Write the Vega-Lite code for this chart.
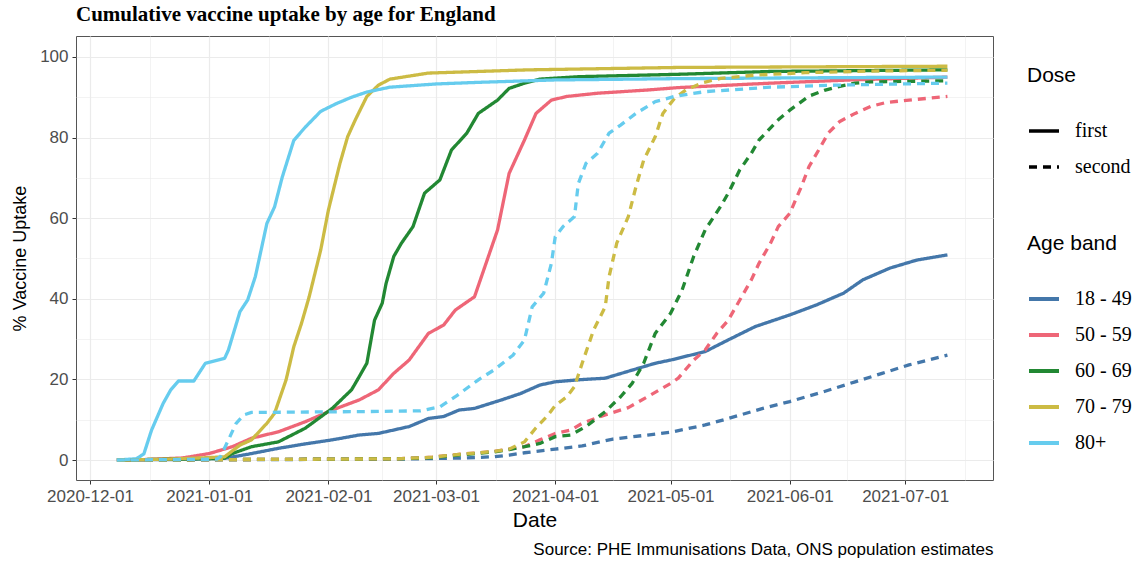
{
  "$schema": "https://vega.github.io/schema/vega-lite/v6.json",
  "autosize": {"type": "none"},
  "padding": {"left": 76, "top": 36, "right": 144, "bottom": 88},
  "width": 917,
  "height": 444,
  "background": "white",
  "title": {
    "text": "Cumulative vaccine uptake by age for England",
    "anchor": "start",
    "frame": "group",
    "font": "Liberation Serif",
    "fontSize": 21,
    "fontWeight": "bold",
    "color": "black",
    "baseline": "alphabetic",
    "offset": -6
  },
  "config": {
    "view": {"stroke": "#555555", "strokeWidth": 1},
    "axis": {
      "labelFont": "Liberation Sans",
      "titleFont": "Liberation Sans",
      "labelColor": "#4D4D4D",
      "titleColor": "black",
      "titleFontWeight": "normal",
      "labelFontSize": 17,
      "titleFontSize": 21,
      "domain": false,
      "tickColor": "#333333",
      "tickSize": 4,
      "labelPadding": 4,
      "gridColor": "#EBEBEB",
      "gridWidth": 1.2
    },
    "legend": {
      "titleFont": "Liberation Sans",
      "titleFontSize": 21,
      "titleFontWeight": "normal",
      "titleColor": "black",
      "labelFont": "Liberation Serif",
      "labelFontSize": 20,
      "labelColor": "black",
      "symbolType": "stroke",
      "symbolSize": 900,
      "symbolStrokeWidth": 3.5,
      "rowPadding": 9,
      "titlePadding": 28,
      "labelOffset": 14,
      "padding": 0
    }
  },
  "data": {"name": "uptake", "values": [
    {"date": "2020-12-08", "age": "18 - 49", "dose": "first", "pct": 0},
    {"date": "2020-12-21", "age": "18 - 49", "dose": "first", "pct": 0.1},
    {"date": "2021-01-05", "age": "18 - 49", "dose": "first", "pct": 0.4},
    {"date": "2021-01-12", "age": "18 - 49", "dose": "first", "pct": 1.6},
    {"date": "2021-01-19", "age": "18 - 49", "dose": "first", "pct": 2.9},
    {"date": "2021-01-26", "age": "18 - 49", "dose": "first", "pct": 4.0},
    {"date": "2021-02-02", "age": "18 - 49", "dose": "first", "pct": 5.0},
    {"date": "2021-02-09", "age": "18 - 49", "dose": "first", "pct": 6.2},
    {"date": "2021-02-14", "age": "18 - 49", "dose": "first", "pct": 6.6},
    {"date": "2021-02-22", "age": "18 - 49", "dose": "first", "pct": 8.3},
    {"date": "2021-02-27", "age": "18 - 49", "dose": "first", "pct": 10.3},
    {"date": "2021-03-03", "age": "18 - 49", "dose": "first", "pct": 10.8},
    {"date": "2021-03-07", "age": "18 - 49", "dose": "first", "pct": 12.4},
    {"date": "2021-03-11", "age": "18 - 49", "dose": "first", "pct": 12.8},
    {"date": "2021-03-18", "age": "18 - 49", "dose": "first", "pct": 14.9},
    {"date": "2021-03-23", "age": "18 - 49", "dose": "first", "pct": 16.5},
    {"date": "2021-03-28", "age": "18 - 49", "dose": "first", "pct": 18.6},
    {"date": "2021-04-01", "age": "18 - 49", "dose": "first", "pct": 19.4},
    {"date": "2021-04-07", "age": "18 - 49", "dose": "first", "pct": 19.9},
    {"date": "2021-04-14", "age": "18 - 49", "dose": "first", "pct": 20.3},
    {"date": "2021-04-21", "age": "18 - 49", "dose": "first", "pct": 22.3},
    {"date": "2021-04-27", "age": "18 - 49", "dose": "first", "pct": 24.0},
    {"date": "2021-05-01", "age": "18 - 49", "dose": "first", "pct": 24.8},
    {"date": "2021-05-10", "age": "18 - 49", "dose": "first", "pct": 26.9},
    {"date": "2021-05-16", "age": "18 - 49", "dose": "first", "pct": 29.8},
    {"date": "2021-05-23", "age": "18 - 49", "dose": "first", "pct": 33.1},
    {"date": "2021-06-01", "age": "18 - 49", "dose": "first", "pct": 36.0},
    {"date": "2021-06-08", "age": "18 - 49", "dose": "first", "pct": 38.5},
    {"date": "2021-06-15", "age": "18 - 49", "dose": "first", "pct": 41.4},
    {"date": "2021-06-20", "age": "18 - 49", "dose": "first", "pct": 44.7},
    {"date": "2021-06-27", "age": "18 - 49", "dose": "first", "pct": 47.6},
    {"date": "2021-07-04", "age": "18 - 49", "dose": "first", "pct": 49.6},
    {"date": "2021-07-12", "age": "18 - 49", "dose": "first", "pct": 50.9},

    {"date": "2020-12-08", "age": "50 - 59", "dose": "first", "pct": 0},
    {"date": "2020-12-15", "age": "50 - 59", "dose": "first", "pct": 0.1},
    {"date": "2020-12-25", "age": "50 - 59", "dose": "first", "pct": 0.5},
    {"date": "2021-01-01", "age": "50 - 59", "dose": "first", "pct": 1.6},
    {"date": "2021-01-07", "age": "50 - 59", "dose": "first", "pct": 3.3},
    {"date": "2021-01-12", "age": "50 - 59", "dose": "first", "pct": 5.4},
    {"date": "2021-01-19", "age": "50 - 59", "dose": "first", "pct": 7.0},
    {"date": "2021-01-26", "age": "50 - 59", "dose": "first", "pct": 9.5},
    {"date": "2021-02-02", "age": "50 - 59", "dose": "first", "pct": 12.4},
    {"date": "2021-02-09", "age": "50 - 59", "dose": "first", "pct": 14.9},
    {"date": "2021-02-14", "age": "50 - 59", "dose": "first", "pct": 17.4},
    {"date": "2021-02-18", "age": "50 - 59", "dose": "first", "pct": 21.5},
    {"date": "2021-02-22", "age": "50 - 59", "dose": "first", "pct": 24.8},
    {"date": "2021-02-27", "age": "50 - 59", "dose": "first", "pct": 31.4},
    {"date": "2021-03-03", "age": "50 - 59", "dose": "first", "pct": 33.5},
    {"date": "2021-03-06", "age": "50 - 59", "dose": "first", "pct": 37.2},
    {"date": "2021-03-11", "age": "50 - 59", "dose": "first", "pct": 40.5},
    {"date": "2021-03-14", "age": "50 - 59", "dose": "first", "pct": 48.8},
    {"date": "2021-03-17", "age": "50 - 59", "dose": "first", "pct": 57.1},
    {"date": "2021-03-20", "age": "50 - 59", "dose": "first", "pct": 71.1},
    {"date": "2021-03-24", "age": "50 - 59", "dose": "first", "pct": 79.4},
    {"date": "2021-03-27", "age": "50 - 59", "dose": "first", "pct": 86.0},
    {"date": "2021-03-31", "age": "50 - 59", "dose": "first", "pct": 89.3},
    {"date": "2021-04-04", "age": "50 - 59", "dose": "first", "pct": 90.2},
    {"date": "2021-04-12", "age": "50 - 59", "dose": "first", "pct": 91.0},
    {"date": "2021-04-25", "age": "50 - 59", "dose": "first", "pct": 91.8},
    {"date": "2021-05-03", "age": "50 - 59", "dose": "first", "pct": 92.4},
    {"date": "2021-05-27", "age": "50 - 59", "dose": "first", "pct": 93.5},
    {"date": "2021-06-17", "age": "50 - 59", "dose": "first", "pct": 94.3},
    {"date": "2021-07-12", "age": "50 - 59", "dose": "first", "pct": 95.0},

    {"date": "2020-12-08", "age": "60 - 69", "dose": "first", "pct": 0},
    {"date": "2020-12-21", "age": "60 - 69", "dose": "first", "pct": 0.2},
    {"date": "2021-01-01", "age": "60 - 69", "dose": "first", "pct": 0.3},
    {"date": "2021-01-05", "age": "60 - 69", "dose": "first", "pct": 0.5},
    {"date": "2021-01-07", "age": "60 - 69", "dose": "first", "pct": 1.6},
    {"date": "2021-01-12", "age": "60 - 69", "dose": "first", "pct": 3.3},
    {"date": "2021-01-19", "age": "60 - 69", "dose": "first", "pct": 4.5},
    {"date": "2021-01-26", "age": "60 - 69", "dose": "first", "pct": 7.9},
    {"date": "2021-02-02", "age": "60 - 69", "dose": "first", "pct": 12.8},
    {"date": "2021-02-07", "age": "60 - 69", "dose": "first", "pct": 17.4},
    {"date": "2021-02-08", "age": "60 - 69", "dose": "first", "pct": 19.0},
    {"date": "2021-02-11", "age": "60 - 69", "dose": "first", "pct": 24.0},
    {"date": "2021-02-13", "age": "60 - 69", "dose": "first", "pct": 34.7},
    {"date": "2021-02-15", "age": "60 - 69", "dose": "first", "pct": 38.9},
    {"date": "2021-02-16", "age": "60 - 69", "dose": "first", "pct": 43.8},
    {"date": "2021-02-18", "age": "60 - 69", "dose": "first", "pct": 50.5},
    {"date": "2021-02-20", "age": "60 - 69", "dose": "first", "pct": 53.8},
    {"date": "2021-02-23", "age": "60 - 69", "dose": "first", "pct": 57.9},
    {"date": "2021-02-26", "age": "60 - 69", "dose": "first", "pct": 66.2},
    {"date": "2021-03-02", "age": "60 - 69", "dose": "first", "pct": 69.5},
    {"date": "2021-03-05", "age": "60 - 69", "dose": "first", "pct": 76.9},
    {"date": "2021-03-09", "age": "60 - 69", "dose": "first", "pct": 81.1},
    {"date": "2021-03-12", "age": "60 - 69", "dose": "first", "pct": 86.0},
    {"date": "2021-03-17", "age": "60 - 69", "dose": "first", "pct": 89.3},
    {"date": "2021-03-20", "age": "60 - 69", "dose": "first", "pct": 92.2},
    {"date": "2021-03-24", "age": "60 - 69", "dose": "first", "pct": 93.5},
    {"date": "2021-03-28", "age": "60 - 69", "dose": "first", "pct": 94.5},
    {"date": "2021-04-07", "age": "60 - 69", "dose": "first", "pct": 95.1},
    {"date": "2021-05-03", "age": "60 - 69", "dose": "first", "pct": 95.7},
    {"date": "2021-05-27", "age": "60 - 69", "dose": "first", "pct": 96.4},
    {"date": "2021-07-12", "age": "60 - 69", "dose": "first", "pct": 96.8},

    {"date": "2020-12-08", "age": "70 - 79", "dose": "first", "pct": 0},
    {"date": "2020-12-21", "age": "70 - 79", "dose": "first", "pct": 0.2},
    {"date": "2021-01-01", "age": "70 - 79", "dose": "first", "pct": 0.6},
    {"date": "2021-01-05", "age": "70 - 79", "dose": "first", "pct": 0.8},
    {"date": "2021-01-09", "age": "70 - 79", "dose": "first", "pct": 3.7},
    {"date": "2021-01-12", "age": "70 - 79", "dose": "first", "pct": 5.0},
    {"date": "2021-01-16", "age": "70 - 79", "dose": "first", "pct": 9.1},
    {"date": "2021-01-18", "age": "70 - 79", "dose": "first", "pct": 11.6},
    {"date": "2021-01-21", "age": "70 - 79", "dose": "first", "pct": 19.9},
    {"date": "2021-01-23", "age": "70 - 79", "dose": "first", "pct": 28.1},
    {"date": "2021-01-25", "age": "70 - 79", "dose": "first", "pct": 33.9},
    {"date": "2021-01-27", "age": "70 - 79", "dose": "first", "pct": 40.5},
    {"date": "2021-01-30", "age": "70 - 79", "dose": "first", "pct": 52.1},
    {"date": "2021-02-01", "age": "70 - 79", "dose": "first", "pct": 62.0},
    {"date": "2021-02-04", "age": "70 - 79", "dose": "first", "pct": 73.6},
    {"date": "2021-02-06", "age": "70 - 79", "dose": "first", "pct": 80.2},
    {"date": "2021-02-08", "age": "70 - 79", "dose": "first", "pct": 84.4},
    {"date": "2021-02-11", "age": "70 - 79", "dose": "first", "pct": 90.2},
    {"date": "2021-02-14", "age": "70 - 79", "dose": "first", "pct": 93.0},
    {"date": "2021-02-17", "age": "70 - 79", "dose": "first", "pct": 94.5},
    {"date": "2021-02-27", "age": "70 - 79", "dose": "first", "pct": 96.0},
    {"date": "2021-03-25", "age": "70 - 79", "dose": "first", "pct": 96.8},
    {"date": "2021-05-03", "age": "70 - 79", "dose": "first", "pct": 97.4},
    {"date": "2021-07-12", "age": "70 - 79", "dose": "first", "pct": 97.7},

    {"date": "2020-12-08", "age": "80+", "dose": "first", "pct": 0},
    {"date": "2020-12-13", "age": "80+", "dose": "first", "pct": 0.3},
    {"date": "2020-12-15", "age": "80+", "dose": "first", "pct": 1.5},
    {"date": "2020-12-17", "age": "80+", "dose": "first", "pct": 7.4},
    {"date": "2020-12-20", "age": "80+", "dose": "first", "pct": 14.0},
    {"date": "2020-12-22", "age": "80+", "dose": "first", "pct": 17.4},
    {"date": "2020-12-24", "age": "80+", "dose": "first", "pct": 19.6},
    {"date": "2020-12-28", "age": "80+", "dose": "first", "pct": 19.6},
    {"date": "2020-12-31", "age": "80+", "dose": "first", "pct": 24.0},
    {"date": "2021-01-05", "age": "80+", "dose": "first", "pct": 25.2},
    {"date": "2021-01-06", "age": "80+", "dose": "first", "pct": 27.3},
    {"date": "2021-01-09", "age": "80+", "dose": "first", "pct": 36.8},
    {"date": "2021-01-11", "age": "80+", "dose": "first", "pct": 39.7},
    {"date": "2021-01-13", "age": "80+", "dose": "first", "pct": 45.5},
    {"date": "2021-01-16", "age": "80+", "dose": "first", "pct": 58.7},
    {"date": "2021-01-18", "age": "80+", "dose": "first", "pct": 62.8},
    {"date": "2021-01-20", "age": "80+", "dose": "first", "pct": 70.2},
    {"date": "2021-01-23", "age": "80+", "dose": "first", "pct": 79.3},
    {"date": "2021-01-26", "age": "80+", "dose": "first", "pct": 82.6},
    {"date": "2021-01-30", "age": "80+", "dose": "first", "pct": 86.5},
    {"date": "2021-02-03", "age": "80+", "dose": "first", "pct": 88.4},
    {"date": "2021-02-07", "age": "80+", "dose": "first", "pct": 90.0},
    {"date": "2021-02-11", "age": "80+", "dose": "first", "pct": 91.3},
    {"date": "2021-02-17", "age": "80+", "dose": "first", "pct": 92.5},
    {"date": "2021-03-01", "age": "80+", "dose": "first", "pct": 93.3},
    {"date": "2021-03-12", "age": "80+", "dose": "first", "pct": 93.7},
    {"date": "2021-04-01", "age": "80+", "dose": "first", "pct": 94.3},
    {"date": "2021-05-01", "age": "80+", "dose": "first", "pct": 94.6},
    {"date": "2021-06-01", "age": "80+", "dose": "first", "pct": 94.8},
    {"date": "2021-07-12", "age": "80+", "dose": "first", "pct": 95.0},

    {"date": "2020-12-08", "age": "18 - 49", "dose": "second", "pct": 0},
    {"date": "2021-02-19", "age": "18 - 49", "dose": "second", "pct": 0.2},
    {"date": "2021-03-08", "age": "18 - 49", "dose": "second", "pct": 0.5},
    {"date": "2021-03-16", "age": "18 - 49", "dose": "second", "pct": 0.8},
    {"date": "2021-03-20", "age": "18 - 49", "dose": "second", "pct": 1.2},
    {"date": "2021-03-24", "age": "18 - 49", "dose": "second", "pct": 1.8},
    {"date": "2021-04-01", "age": "18 - 49", "dose": "second", "pct": 2.7},
    {"date": "2021-04-08", "age": "18 - 49", "dose": "second", "pct": 3.5},
    {"date": "2021-04-16", "age": "18 - 49", "dose": "second", "pct": 5.2},
    {"date": "2021-04-25", "age": "18 - 49", "dose": "second", "pct": 6.2},
    {"date": "2021-05-01", "age": "18 - 49", "dose": "second", "pct": 6.9},
    {"date": "2021-05-10", "age": "18 - 49", "dose": "second", "pct": 8.7},
    {"date": "2021-05-16", "age": "18 - 49", "dose": "second", "pct": 10.3},
    {"date": "2021-05-25", "age": "18 - 49", "dose": "second", "pct": 12.8},
    {"date": "2021-06-01", "age": "18 - 49", "dose": "second", "pct": 14.5},
    {"date": "2021-06-10", "age": "18 - 49", "dose": "second", "pct": 17.0},
    {"date": "2021-06-18", "age": "18 - 49", "dose": "second", "pct": 19.4},
    {"date": "2021-06-25", "age": "18 - 49", "dose": "second", "pct": 21.5},
    {"date": "2021-07-02", "age": "18 - 49", "dose": "second", "pct": 23.6},
    {"date": "2021-07-12", "age": "18 - 49", "dose": "second", "pct": 26.0},

    {"date": "2020-12-08", "age": "50 - 59", "dose": "second", "pct": 0},
    {"date": "2021-01-30", "age": "50 - 59", "dose": "second", "pct": 0.2},
    {"date": "2021-02-19", "age": "50 - 59", "dose": "second", "pct": 0.3},
    {"date": "2021-02-28", "age": "50 - 59", "dose": "second", "pct": 0.7},
    {"date": "2021-03-08", "age": "50 - 59", "dose": "second", "pct": 1.5},
    {"date": "2021-03-16", "age": "50 - 59", "dose": "second", "pct": 2.1},
    {"date": "2021-03-20", "age": "50 - 59", "dose": "second", "pct": 2.7},
    {"date": "2021-03-24", "age": "50 - 59", "dose": "second", "pct": 3.3},
    {"date": "2021-03-28", "age": "50 - 59", "dose": "second", "pct": 5.0},
    {"date": "2021-04-01", "age": "50 - 59", "dose": "second", "pct": 6.6},
    {"date": "2021-04-05", "age": "50 - 59", "dose": "second", "pct": 7.4},
    {"date": "2021-04-08", "age": "50 - 59", "dose": "second", "pct": 9.1},
    {"date": "2021-04-14", "age": "50 - 59", "dose": "second", "pct": 11.2},
    {"date": "2021-04-20", "age": "50 - 59", "dose": "second", "pct": 13.0},
    {"date": "2021-04-25", "age": "50 - 59", "dose": "second", "pct": 15.7},
    {"date": "2021-05-01", "age": "50 - 59", "dose": "second", "pct": 19.0},
    {"date": "2021-05-03", "age": "50 - 59", "dose": "second", "pct": 20.3},
    {"date": "2021-05-07", "age": "50 - 59", "dose": "second", "pct": 24.8},
    {"date": "2021-05-10", "age": "50 - 59", "dose": "second", "pct": 27.3},
    {"date": "2021-05-13", "age": "50 - 59", "dose": "second", "pct": 31.4},
    {"date": "2021-05-16", "age": "50 - 59", "dose": "second", "pct": 34.7},
    {"date": "2021-05-19", "age": "50 - 59", "dose": "second", "pct": 39.7},
    {"date": "2021-05-22", "age": "50 - 59", "dose": "second", "pct": 44.7},
    {"date": "2021-05-24", "age": "50 - 59", "dose": "second", "pct": 48.8},
    {"date": "2021-05-27", "age": "50 - 59", "dose": "second", "pct": 53.8},
    {"date": "2021-05-29", "age": "50 - 59", "dose": "second", "pct": 57.9},
    {"date": "2021-06-01", "age": "50 - 59", "dose": "second", "pct": 61.2},
    {"date": "2021-06-04", "age": "50 - 59", "dose": "second", "pct": 67.8},
    {"date": "2021-06-06", "age": "50 - 59", "dose": "second", "pct": 72.8},
    {"date": "2021-06-09", "age": "50 - 59", "dose": "second", "pct": 77.7},
    {"date": "2021-06-11", "age": "50 - 59", "dose": "second", "pct": 81.1},
    {"date": "2021-06-14", "age": "50 - 59", "dose": "second", "pct": 84.0},
    {"date": "2021-06-18", "age": "50 - 59", "dose": "second", "pct": 86.0},
    {"date": "2021-06-22", "age": "50 - 59", "dose": "second", "pct": 87.7},
    {"date": "2021-06-26", "age": "50 - 59", "dose": "second", "pct": 88.7},
    {"date": "2021-07-02", "age": "50 - 59", "dose": "second", "pct": 89.3},
    {"date": "2021-07-12", "age": "50 - 59", "dose": "second", "pct": 90.2},

    {"date": "2020-12-08", "age": "60 - 69", "dose": "second", "pct": 0},
    {"date": "2021-01-30", "age": "60 - 69", "dose": "second", "pct": 0.2},
    {"date": "2021-02-19", "age": "60 - 69", "dose": "second", "pct": 0.3},
    {"date": "2021-02-28", "age": "60 - 69", "dose": "second", "pct": 0.6},
    {"date": "2021-03-08", "age": "60 - 69", "dose": "second", "pct": 1.3},
    {"date": "2021-03-16", "age": "60 - 69", "dose": "second", "pct": 2.0},
    {"date": "2021-03-20", "age": "60 - 69", "dose": "second", "pct": 2.6},
    {"date": "2021-03-24", "age": "60 - 69", "dose": "second", "pct": 3.3},
    {"date": "2021-03-28", "age": "60 - 69", "dose": "second", "pct": 4.1},
    {"date": "2021-04-01", "age": "60 - 69", "dose": "second", "pct": 5.8},
    {"date": "2021-04-05", "age": "60 - 69", "dose": "second", "pct": 6.2},
    {"date": "2021-04-09", "age": "60 - 69", "dose": "second", "pct": 8.3},
    {"date": "2021-04-14", "age": "60 - 69", "dose": "second", "pct": 12.0},
    {"date": "2021-04-18", "age": "60 - 69", "dose": "second", "pct": 15.7},
    {"date": "2021-04-21", "age": "60 - 69", "dose": "second", "pct": 19.0},
    {"date": "2021-04-24", "age": "60 - 69", "dose": "second", "pct": 24.0},
    {"date": "2021-04-27", "age": "60 - 69", "dose": "second", "pct": 31.4},
    {"date": "2021-05-01", "age": "60 - 69", "dose": "second", "pct": 36.4},
    {"date": "2021-05-04", "age": "60 - 69", "dose": "second", "pct": 42.2},
    {"date": "2021-05-07", "age": "60 - 69", "dose": "second", "pct": 50.5},
    {"date": "2021-05-10", "age": "60 - 69", "dose": "second", "pct": 57.1},
    {"date": "2021-05-14", "age": "60 - 69", "dose": "second", "pct": 62.9},
    {"date": "2021-05-16", "age": "60 - 69", "dose": "second", "pct": 66.2},
    {"date": "2021-05-19", "age": "60 - 69", "dose": "second", "pct": 72.0},
    {"date": "2021-05-22", "age": "60 - 69", "dose": "second", "pct": 76.1},
    {"date": "2021-05-24", "age": "60 - 69", "dose": "second", "pct": 79.4},
    {"date": "2021-05-29", "age": "60 - 69", "dose": "second", "pct": 84.4},
    {"date": "2021-06-01", "age": "60 - 69", "dose": "second", "pct": 86.8},
    {"date": "2021-06-06", "age": "60 - 69", "dose": "second", "pct": 90.3},
    {"date": "2021-06-10", "age": "60 - 69", "dose": "second", "pct": 91.7},
    {"date": "2021-06-14", "age": "60 - 69", "dose": "second", "pct": 92.7},
    {"date": "2021-06-18", "age": "60 - 69", "dose": "second", "pct": 93.5},
    {"date": "2021-06-22", "age": "60 - 69", "dose": "second", "pct": 93.8},
    {"date": "2021-07-12", "age": "60 - 69", "dose": "second", "pct": 94.1},

    {"date": "2020-12-08", "age": "70 - 79", "dose": "second", "pct": 0},
    {"date": "2021-01-30", "age": "70 - 79", "dose": "second", "pct": 0.2},
    {"date": "2021-02-19", "age": "70 - 79", "dose": "second", "pct": 0.3},
    {"date": "2021-02-28", "age": "70 - 79", "dose": "second", "pct": 0.7},
    {"date": "2021-03-08", "age": "70 - 79", "dose": "second", "pct": 1.5},
    {"date": "2021-03-16", "age": "70 - 79", "dose": "second", "pct": 2.1},
    {"date": "2021-03-20", "age": "70 - 79", "dose": "second", "pct": 2.7},
    {"date": "2021-03-24", "age": "70 - 79", "dose": "second", "pct": 4.5},
    {"date": "2021-03-27", "age": "70 - 79", "dose": "second", "pct": 8.0},
    {"date": "2021-03-30", "age": "70 - 79", "dose": "second", "pct": 11.0},
    {"date": "2021-04-01", "age": "70 - 79", "dose": "second", "pct": 13.5},
    {"date": "2021-04-04", "age": "70 - 79", "dose": "second", "pct": 15.7},
    {"date": "2021-04-06", "age": "70 - 79", "dose": "second", "pct": 18.2},
    {"date": "2021-04-08", "age": "70 - 79", "dose": "second", "pct": 24.0},
    {"date": "2021-04-11", "age": "70 - 79", "dose": "second", "pct": 32.3},
    {"date": "2021-04-14", "age": "70 - 79", "dose": "second", "pct": 38.0},
    {"date": "2021-04-15", "age": "70 - 79", "dose": "second", "pct": 45.5},
    {"date": "2021-04-17", "age": "70 - 79", "dose": "second", "pct": 53.8},
    {"date": "2021-04-20", "age": "70 - 79", "dose": "second", "pct": 60.4},
    {"date": "2021-04-22", "age": "70 - 79", "dose": "second", "pct": 67.8},
    {"date": "2021-04-24", "age": "70 - 79", "dose": "second", "pct": 74.4},
    {"date": "2021-04-27", "age": "70 - 79", "dose": "second", "pct": 80.2},
    {"date": "2021-04-29", "age": "70 - 79", "dose": "second", "pct": 86.0},
    {"date": "2021-05-02", "age": "70 - 79", "dose": "second", "pct": 89.7},
    {"date": "2021-05-05", "age": "70 - 79", "dose": "second", "pct": 91.8},
    {"date": "2021-05-09", "age": "70 - 79", "dose": "second", "pct": 93.5},
    {"date": "2021-05-14", "age": "70 - 79", "dose": "second", "pct": 94.7},
    {"date": "2021-05-23", "age": "70 - 79", "dose": "second", "pct": 95.5},
    {"date": "2021-06-05", "age": "70 - 79", "dose": "second", "pct": 96.1},
    {"date": "2021-06-22", "age": "70 - 79", "dose": "second", "pct": 96.5},
    {"date": "2021-07-12", "age": "70 - 79", "dose": "second", "pct": 96.7},

    {"date": "2020-12-08", "age": "80+", "dose": "second", "pct": 0},
    {"date": "2021-01-03", "age": "80+", "dose": "second", "pct": 0.2},
    {"date": "2021-01-04", "age": "80+", "dose": "second", "pct": 0.9},
    {"date": "2021-01-06", "age": "80+", "dose": "second", "pct": 5.0},
    {"date": "2021-01-08", "age": "80+", "dose": "second", "pct": 9.1},
    {"date": "2021-01-10", "age": "80+", "dose": "second", "pct": 11.2},
    {"date": "2021-01-12", "age": "80+", "dose": "second", "pct": 11.8},
    {"date": "2021-02-09", "age": "80+", "dose": "second", "pct": 12.0},
    {"date": "2021-02-25", "age": "80+", "dose": "second", "pct": 12.2},
    {"date": "2021-03-02", "age": "80+", "dose": "second", "pct": 13.2},
    {"date": "2021-03-06", "age": "80+", "dose": "second", "pct": 15.7},
    {"date": "2021-03-12", "age": "80+", "dose": "second", "pct": 19.9},
    {"date": "2021-03-16", "age": "80+", "dose": "second", "pct": 22.3},
    {"date": "2021-03-21", "age": "80+", "dose": "second", "pct": 26.0},
    {"date": "2021-03-24", "age": "80+", "dose": "second", "pct": 29.8},
    {"date": "2021-03-26", "age": "80+", "dose": "second", "pct": 38.0},
    {"date": "2021-03-29", "age": "80+", "dose": "second", "pct": 41.4},
    {"date": "2021-03-31", "age": "80+", "dose": "second", "pct": 48.8},
    {"date": "2021-04-01", "age": "80+", "dose": "second", "pct": 55.4},
    {"date": "2021-04-03", "age": "80+", "dose": "second", "pct": 57.9},
    {"date": "2021-04-06", "age": "80+", "dose": "second", "pct": 60.4},
    {"date": "2021-04-07", "age": "80+", "dose": "second", "pct": 68.6},
    {"date": "2021-04-09", "age": "80+", "dose": "second", "pct": 73.6},
    {"date": "2021-04-12", "age": "80+", "dose": "second", "pct": 76.1},
    {"date": "2021-04-15", "age": "80+", "dose": "second", "pct": 81.1},
    {"date": "2021-04-18", "age": "80+", "dose": "second", "pct": 83.1},
    {"date": "2021-04-22", "age": "80+", "dose": "second", "pct": 86.0},
    {"date": "2021-04-27", "age": "80+", "dose": "second", "pct": 88.9},
    {"date": "2021-05-02", "age": "80+", "dose": "second", "pct": 90.2},
    {"date": "2021-05-10", "age": "80+", "dose": "second", "pct": 91.4},
    {"date": "2021-05-27", "age": "80+", "dose": "second", "pct": 92.5},
    {"date": "2021-06-13", "age": "80+", "dose": "second", "pct": 93.0},
    {"date": "2021-07-12", "age": "80+", "dose": "second", "pct": 93.5}
  ]},
  "resolve": {"axis": {"x": "independent", "y": "independent"}},
  "layer": [
    {
      "mark": {"type": "line", "opacity": 0},
      "encoding": {
        "x": {
          "field": "date", "type": "temporal",
          "scale": {"type": "utc", "domain": [
            {"year": 2020, "month": 11, "date": 27, "hours": 8, "minutes": 30, "utc": true},
            {"year": 2021, "month": 7, "date": 23, "hours": 20, "minutes": 30, "utc": true}]},
          "axis": {
            "orient": "bottom",
            "values": [
              {"year": 2020, "month": 12, "date": 16, "hours": 12, "utc": true},
              {"year": 2021, "month": 1, "date": 16, "hours": 12, "utc": true},
              {"year": 2021, "month": 2, "date": 15, "utc": true},
              {"year": 2021, "month": 3, "date": 16, "hours": 12, "utc": true},
              {"year": 2021, "month": 4, "date": 16, "utc": true},
              {"year": 2021, "month": 5, "date": 16, "hours": 12, "utc": true},
              {"year": 2021, "month": 6, "date": 16, "utc": true},
              {"year": 2021, "month": 7, "date": 16, "hours": 12, "utc": true}],
            "grid": true, "gridWidth": 0.6,
            "labels": false, "ticks": false, "domain": false,
            "title": "Source: PHE Immunisations Data, ONS population estimates",
            "titleAnchor": "end",
            "titleFontSize": 17,
            "titlePadding": 61
          }
        },
        "y": {
          "field": "pct", "type": "quantitative",
          "scale": {"domain": [-4.96, 105.2], "nice": false, "zero": false},
          "axis": {
            "orient": "left",
            "values": [10, 30, 50, 70, 90],
            "grid": true, "gridWidth": 0.6,
            "labels": false, "ticks": false, "domain": false, "title": null
          }
        },
        "detail": {"field": "age"}
      }
    },
    {
      "mark": {"type": "line", "strokeWidth": 3.3, "strokeCap": "butt", "strokeJoin": "round"},
      "encoding": {
        "x": {
          "field": "date", "type": "temporal",
          "scale": {"type": "utc", "domain": [
            {"year": 2020, "month": 11, "date": 27, "hours": 8, "minutes": 30, "utc": true},
            {"year": 2021, "month": 7, "date": 23, "hours": 20, "minutes": 30, "utc": true}]},
          "axis": {
            "orient": "bottom",
            "values": [
              {"year": 2020, "month": 12, "date": 1, "utc": true},
              {"year": 2021, "month": 1, "date": 1, "utc": true},
              {"year": 2021, "month": 2, "date": 1, "utc": true},
              {"year": 2021, "month": 3, "date": 1, "utc": true},
              {"year": 2021, "month": 4, "date": 1, "utc": true},
              {"year": 2021, "month": 5, "date": 1, "utc": true},
              {"year": 2021, "month": 6, "date": 1, "utc": true},
              {"year": 2021, "month": 7, "date": 1, "utc": true}],
            "labelExpr": "utcFormat(datum.value, '%Y-%m-%d')",
            "labelOverlap": false,
            "grid": true,
            "title": "Date",
            "titlePadding": 5
          }
        },
        "y": {
          "field": "pct", "type": "quantitative",
          "scale": {"domain": [-4.96, 105.2], "nice": false, "zero": false},
          "axis": {
            "orient": "left",
            "values": [0, 20, 40, 60, 80, 100],
            "grid": true,
            "title": "% Vaccine Uptake",
            "titleFontSize": 18,
            "titlePadding": 10
          }
        },
        "color": {
          "field": "age", "type": "nominal",
          "scale": {
            "domain": ["18 - 49", "50 - 59", "60 - 69", "70 - 79", "80+"],
            "range": ["#4477AA", "#EE6677", "#228833", "#CCBB44", "#66CCEE"]
          },
          "legend": {"title": "Age band", "orient": "none", "legendX": 951, "legendY": 197, "symbolStrokeWidth": 4}
        },
        "strokeDash": {
          "field": "dose", "type": "nominal",
          "scale": {"domain": ["first", "second"], "range": [[1, 0], [8, 6]]},
          "legend": {"title": "Dose", "orient": "none", "legendX": 951, "legendY": 29, "symbolStrokeColor": "black", "symbolStrokeWidth": 3.5}
        }
      }
    }
  ]
}
